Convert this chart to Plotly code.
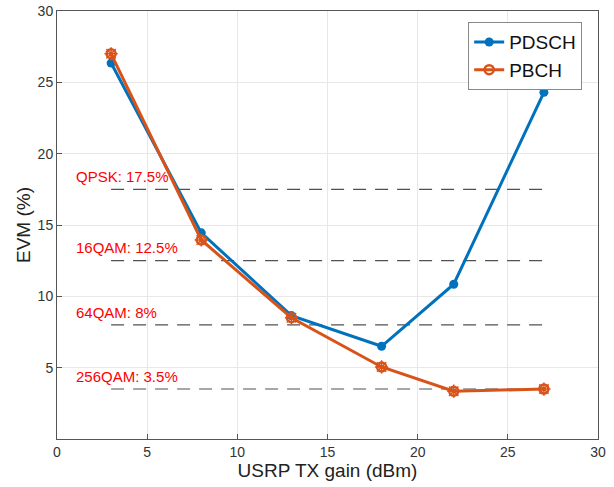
import plotly.graph_objects as go

gain = [3, 8, 13, 18, 22, 27]
pdsch_evm = [26.35, 14.45, 8.65, 6.5, 10.85, 24.3]
pbch_evm = [27.0, 13.95, 8.5, 5.05, 3.35, 3.5]

thr_names = ["QPSK: 17.5%", "16QAM: 12.5%", "64QAM: 8%", "256QAM: 3.5%"]
thr_values = [17.5, 12.5, 8.0, 3.5]
thr_x = [3, 27]
label_x = 0.95
label_offset = 0.9

x_ticks = [0, 5, 10, 15, 20, 25, 30]
y_ticks = [5, 10, 15, 20, 25, 30]

BLUE = "#0072BD"
ORANGE = "#D95319"
FONT = "Liberation Sans, Arial, sans-serif"

fig = go.Figure()

for v in thr_values:
    fig.add_trace(go.Scatter(
        x=thr_x, y=[v, v], mode="lines",
        line=dict(color="rgba(50,50,50,0.85)", width=1.1, dash="13px,9px"),
        showlegend=False, hoverinfo="skip"))

fig.add_trace(go.Scatter(
    x=gain, y=pdsch_evm, mode="lines+markers", name="PDSCH",
    line=dict(color=BLUE, width=3),
    marker=dict(symbol="circle", size=9, color=BLUE)))

fig.add_trace(go.Scatter(
    x=gain, y=pbch_evm, mode="lines+markers", name="PBCH",
    line=dict(color=ORANGE, width=3),
    marker=dict(symbol="circle-open", size=9, color=ORANGE, line=dict(width=2.5, color=ORANGE))))

fig.add_trace(go.Scatter(
    x=gain, y=pbch_evm, mode="markers", showlegend=False, hoverinfo="skip",
    marker=dict(symbol="asterisk-open", size=11, color=ORANGE, line=dict(width=1.5, color=ORANGE))))

for name, v in zip(thr_names, thr_values):
    fig.add_annotation(x=label_x, y=v + label_offset, text=name, showarrow=False,
                       xanchor="left", yanchor="middle",
                       font=dict(color="#FF0000", size=15, family=FONT))

axis_common = dict(
    showgrid=True, gridcolor="#E8E8E8", gridwidth=1,
    showline=True, linecolor="#555555", linewidth=1, mirror=True,
    ticks="inside", ticklen=5, tickcolor="#555555",
    tickfont=dict(size=14, color="#333333", family=FONT),
    zeroline=False, automargin=False,
)

fig.update_layout(
    width=614, height=487,
    margin=dict(l=57, r=16, t=11, b=48),
    plot_bgcolor="white", paper_bgcolor="white",
    font=dict(family=FONT),
    xaxis=dict(range=[0, 30], tickvals=x_ticks,
               title=dict(text="USRP TX gain (dBm)", font=dict(size=19, color="#222222"), standoff=4),
               **axis_common),
    yaxis=dict(range=[0, 30], tickvals=y_ticks,
               title=dict(text="EVM (%)", font=dict(size=19, color="#222222"), standoff=1),
               **axis_common),
    legend=dict(x=0.76, y=0.974, xanchor="left", yanchor="top",
                bgcolor="white", bordercolor="#888888", borderwidth=1,
                tracegroupgap=0, itemwidth=30,
                font=dict(size=19, color="#111111")),
)

fig.write_html("out.html")
